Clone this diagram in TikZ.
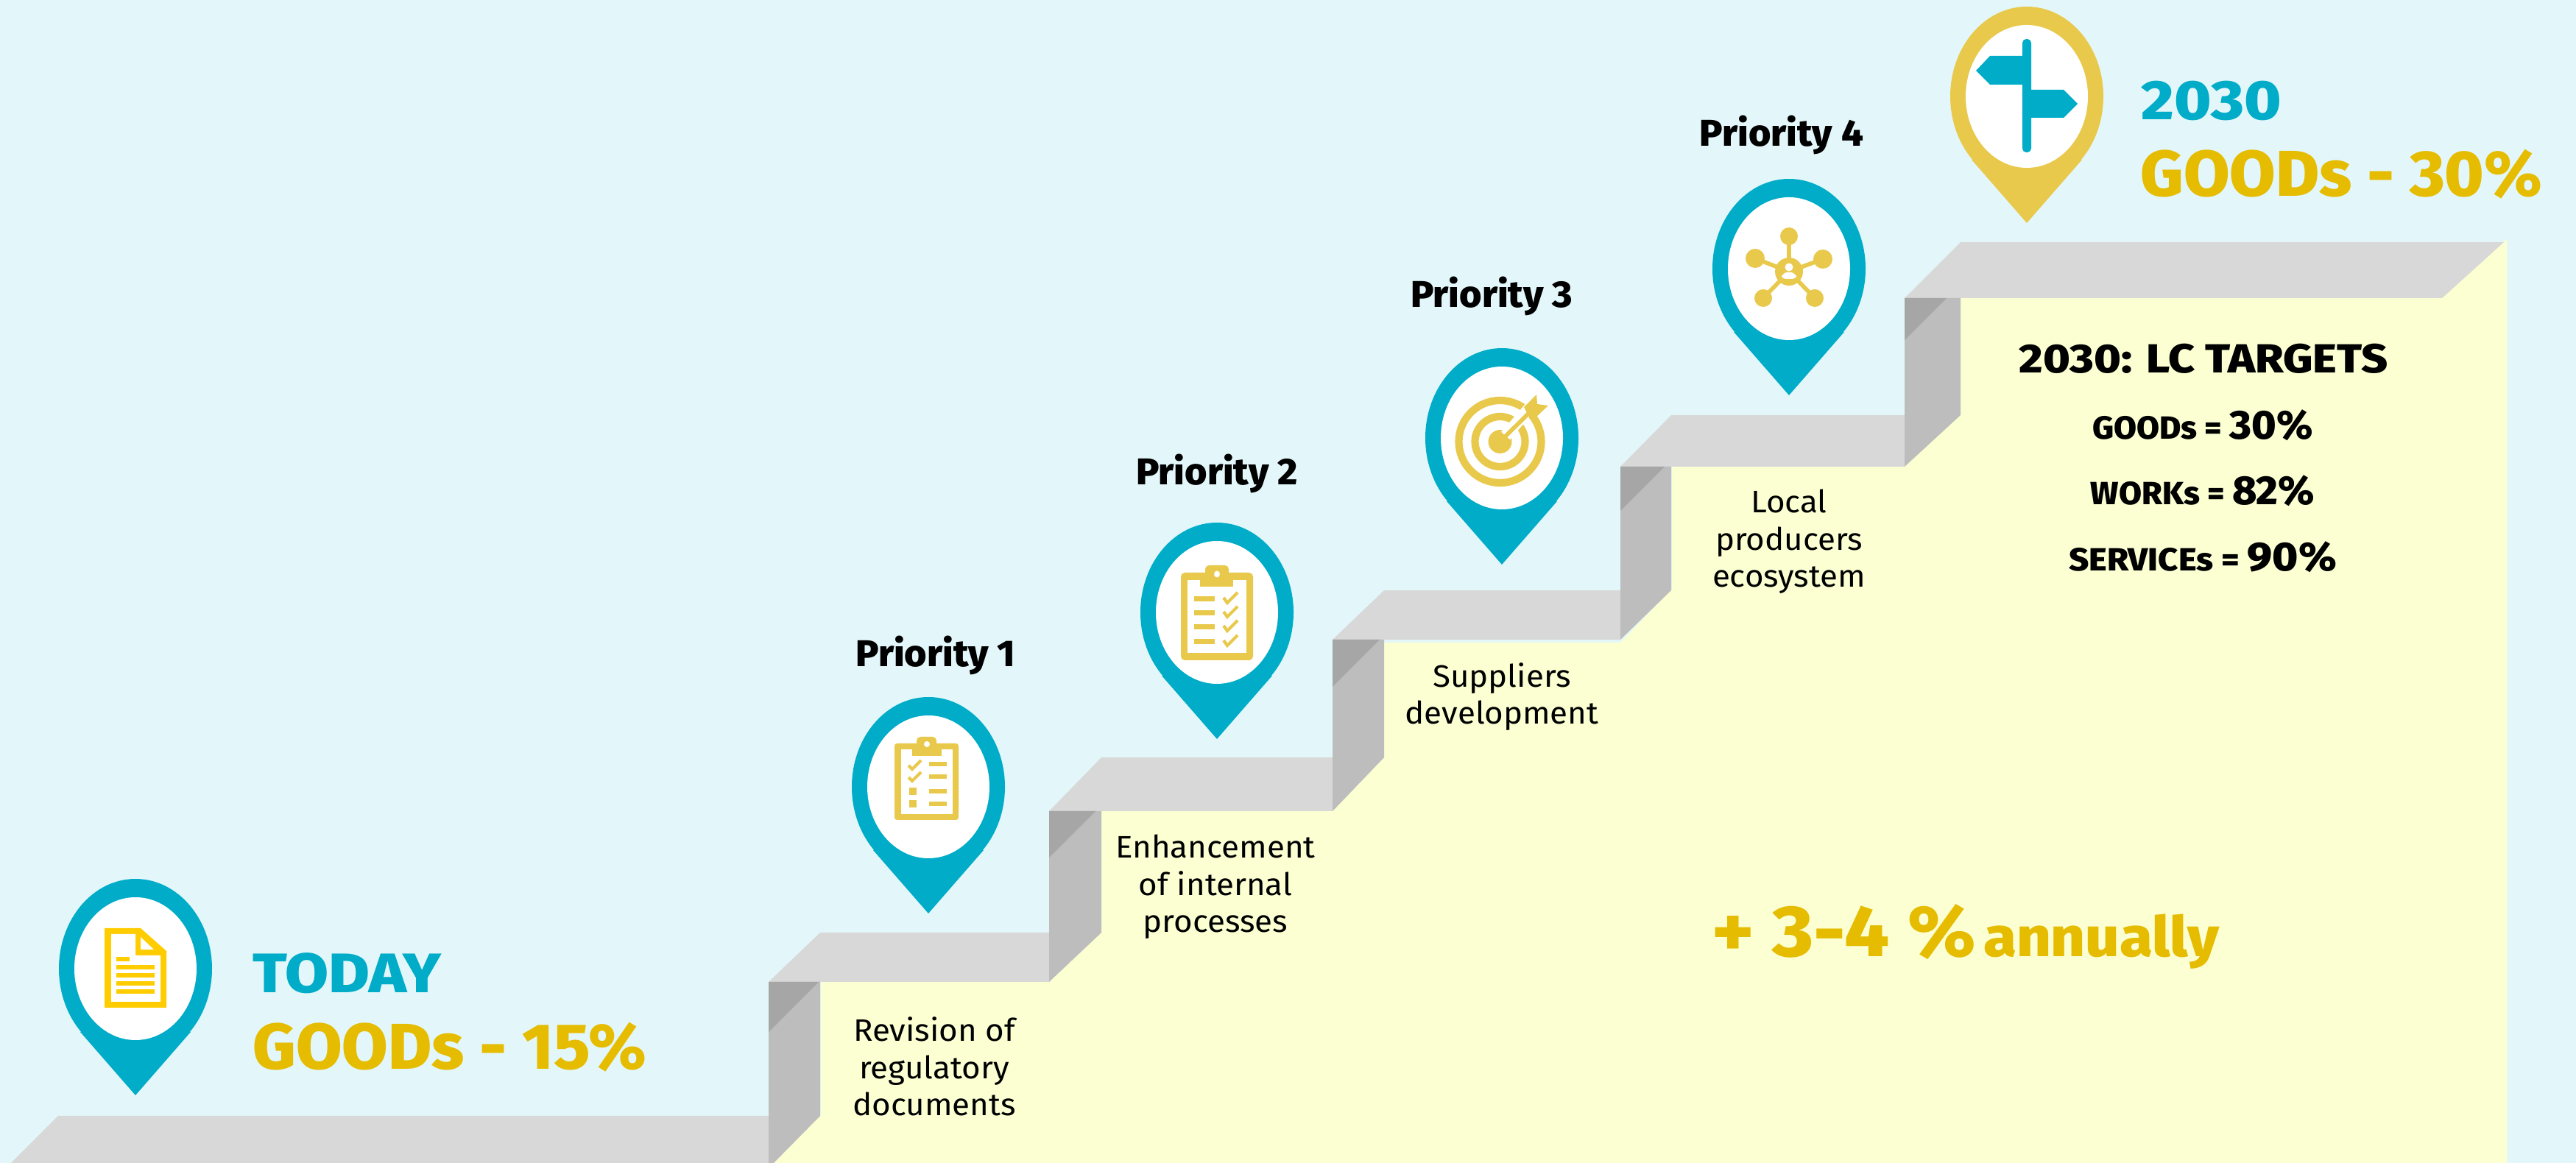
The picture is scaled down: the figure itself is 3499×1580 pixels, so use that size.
\documentclass[tikz,border=0pt]{standalone}
\usepackage{fontspec}
\setmainfont{Fira Sans}
\newfontfamily\heavy[FakeStretch=1.03]{Fira Sans ExtraBold}
\newfontfamily\heavywide[FakeStretch=1.13]{Fira Sans ExtraBold}
\newfontfamily\heavymid[FakeStretch=1.08]{Fira Sans ExtraBold}
\newfontfamily\bodywide[FakeStretch=1.04]{Fira Sans}
\definecolor{skybg}{HTML}{E3F7FA}
\definecolor{riserfill}{HTML}{FBFFD2}
\definecolor{stepgray}{HTML}{D8D8D8}
\definecolor{risergray}{HTML}{BDBDBD}
\definecolor{shadegray}{HTML}{A6A6A6}
\definecolor{pinteal}{HTML}{00ACC8}
\definecolor{icongold}{HTML}{E8C94C}
\definecolor{textgold}{HTML}{E6BC00}
\definecolor{docgold}{HTML}{FFCC00}
\tikzset{
  lbl/.style={inner sep=0pt,anchor=base},
  prio/.style={lbl,font=\fontsize{14.4}{17}\heavy},
  body/.style={lbl,align=center,font=\fontsize{12}{14.5}\bodywide},
  head/.style={lbl,anchor=base west,font=\fontsize{21.5}{26}\heavywide,text=pinteal},
  share/.style={lbl,anchor=base west,font=\fontsize{25}{30}\heavy,text=textgold},
  target/.style={lbl,font=\fontsize{12.4}{15}\heavy},
}
\newcommand{\bigpct}{\fontsize{15.7}{19}\selectfont}
\begin{document}
\begin{tikzpicture}[x=0.01cm,y=-0.01cm]
  \useasboundingbox (0,0) rectangle (3499,1580);
  \clip (0,0) rectangle (3499,1580);
  \fill[skybg] (0,0) rectangle (3499,1580);
  \fill[riserfill] (1050,1580) -- (1115,1514) -- (1115,1333) -- (1425,1333) -- (1496,1267)
    -- (1496,1102) -- (1810,1102) -- (1880,1029) -- (1880,873) -- (2201,873) -- (2271,800)
    -- (2271,634) -- (2587,634) -- (2662,563) -- (2662,405) -- (3317,405) -- (3405,325)
    -- (3405,1580) -- cycle;
  \fill[stepgray] (79,1516) -- (1044,1516) -- (1044,1580) -- (15,1580) -- cycle;
  \fill[stepgray] (2663,329) -- (3401,329) -- (3317,405) -- (2587,405) -- cycle;
  \foreach \fx/\bx/\fy/\by/\nx/\pb/\pf/\dk in {
      1044/1114/1334/1267/1425/1516/1587/68,
      1425/1496/1102/1029/1810/1267/1334/63,
      1810/1880/869/802/2201/1029/1102/64,
      2201/2270/634/564/2587/802/869/60}{
    \fill[stepgray] (\bx,\by) -- (\nx,\by) -- (\nx,\fy) -- (\fx,\fy) -- cycle;
    \fill[risergray] (\fx,\fy) -- (\bx,\fy) -- (\bx,\pb) -- (\fx,\pf) -- cycle;
    \fill[shadegray] (\fx,\fy) -- (\fx+\dk,\fy) -- (\fx,\fy+\dk) -- cycle;
  }
  \fill[risergray] (2587,405) -- (2663,405) -- (2663,564) -- (2587,634) -- cycle;
  \fill[shadegray] (2587,405) -- (2644,405) -- (2587,462) -- cycle;

  \foreach \cx/\cy/\col in {184/1316/pinteal,1261/1069/pinteal,1653/832/pinteal,
      2040/595/pinteal,2430/365/pinteal,2753/131/icongold}{
    \fill[\col] (\cx,\cy) ellipse [x radius=104,y radius=122];
    \fill[\col] (\cx-75,\cy+86) -- (\cx,\cy+172) -- (\cx+75,\cy+86) -- cycle;
    \fill[white] (\cx,\cy) ellipse [x radius=83,y radius=97];
  }

  % today page
  \fill[docgold] (142,1261) -- (191,1261) -- (226,1292) -- (226,1369) -- (142,1369) -- cycle;
  \fill[white] (151,1269) -- (184,1269) -- (184,1298) -- (218,1298) -- (218,1361) -- (151,1361) -- cycle;
  \fill[white] (191,1273) -- (209,1290) -- (191,1290) -- cycle;
  \fill[docgold] (158,1300) rectangle (176,1306);
  \foreach \ly in {1311,1322,1333,1344}
    \fill[docgold] (158,\ly) rectangle (210,\ly+6);

  % clipboard one
  \fill[icongold,rounded corners=1pt] (1215,1010) rectangle (1302,1114);
  \fill[white] (1224,1018) rectangle (1294,1106);
  \fill[icongold] (1239,1018) rectangle (1279,1027);
  \fill[icongold,rounded corners=1.5pt] (1245,1001) rectangle (1272,1018);
  \fill[white] (1259,1011) circle (4);
  \foreach \ly in {1038,1055,1075,1092}
    \fill[icongold] (1262,\ly-3) rectangle (1286,\ly+3);
  \foreach \ly in {1040,1056}
    \draw[icongold,line width=1.2pt] (1234,\ly) -- (1239,\ly+5) -- (1251,\ly-7);
  \foreach \ly in {1075,1092}
    \fill[icongold] (1235,\ly-5) rectangle (1245,\ly+5);

  % clipboard two
  \fill[icongold,rounded corners=1.5pt] (1604,778) rectangle (1702,897);
  \fill[white] (1613,788) rectangle (1693,887);
  \fill[icongold] (1630,788) rectangle (1675,797);
  \fill[icongold,rounded corners=1.5pt] (1637,768) rectangle (1669,788);
  \fill[white] (1653,780) ellipse [x radius=4,y radius=4.5];
  \foreach \ly in {810,829,848,868}{
    \fill[icongold] (1622,\ly) rectangle (1650,\ly+7);
    \draw[icongold,line width=1.2pt] (1662,\ly+2) -- (1667,\ly+9) -- (1681,\ly-5);
  }

  % target
  \draw[icongold,line width=2.9pt] (2037.5,600) circle (56);
  \draw[icongold,line width=2.9pt] (2037.5,600) circle (34);
  \fill[icongold] (2037.5,600) circle (16);
  \draw[white,line width=4.5pt] (2045,592) -- (2090,540);
  \draw[icongold,line width=1.6pt] (2037.5,600) -- (2085,553);
  \fill[icongold] (2087,536) -- (2088,549) -- (2103,551) -- (2085,568) -- (2077,567) -- (2070,553) -- cycle;

  % hub
  \foreach \sx/\sy/\sr in {2430/321/12,2384/351/13,2476/352/13,2395/405/12,2465/405/12}{
    \draw[icongold,line width=1.6pt] (2430,369) -- (\sx,\sy);
    \fill[icongold] (\sx,\sy) circle (\sr);
  }
  \fill[icongold] (2430,369) circle (19);
  \fill[white] (2430,363) circle (5.5);
  \fill[white,rounded corners=1.5pt] (2420,379) -- (2420,372) -- (2430,369) -- (2440,372) -- (2440,379) -- cycle;

  % signpost
  \fill[pinteal,rounded corners=1.5pt] (2747,207) -- (2747,53) -- (2759,53) -- (2759,207) -- cycle;
  \fill[pinteal] (2747,76) -- (2703,76) -- (2684,96) -- (2703,115) -- (2747,115) -- cycle;
  \fill[pinteal] (2759,122) -- (2803,122) -- (2822,141) -- (2803,160) -- (2759,160) -- cycle;

  \node[head] (today) at (343,1349) {TODAY};
  \node[share] (goodsnow) at (343,1453) {GOODs - 15\%};
  \node[head] (year) at (2908,163) {2030};
  \node[share] (goodsgoal) at (2907,267) {GOODs - 30\%};

  \node[prio] (prioa) at (1271,906) {Priority 1};
  \node[prio] (priob) at (1653,659) {Priority 2};
  \node[prio] (prioc) at (2026,418) {Priority 3};
  \node[prio] (priod) at (2420,199) {Priority 4};

  \node[body] (stepa) at (1269,1516) {Revision of\\regulatory\\documents};
  \node[body] (stepb) at (1651,1267) {Enhancement\\of internal\\processes};
  \node[body] (stepc) at (2040,984) {Suppliers\\development};
  \node[body] (stepd) at (2430,798) {Local\\producers\\ecosystem};

  \node[lbl,font=\fontsize{15.7}{19}\heavywide] (goals) at (2993,507) {2030: LC TARGETS};
  \node[target] (goalgoods) at (2992,597) {GOODs = {\bigpct 30\%}};
  \node[target] (goalworks) at (2992,686) {WORKs = {\bigpct 82\%}};
  \node[target,font=\fontsize{12.4}{15}\heavymid] (goalserv) at (2992,776) {SERVICEs = {\bigpct 90\%}};

  \node[lbl,anchor=base west,text=textgold,font=\fontsize{28}{32}\heavymid] (rate) at (2325,1300)
    {+ 3-4 \%\hspace{3pt}{\fontsize{21.5}{24}\heavymid annually}};
\end{tikzpicture}
\end{document}
